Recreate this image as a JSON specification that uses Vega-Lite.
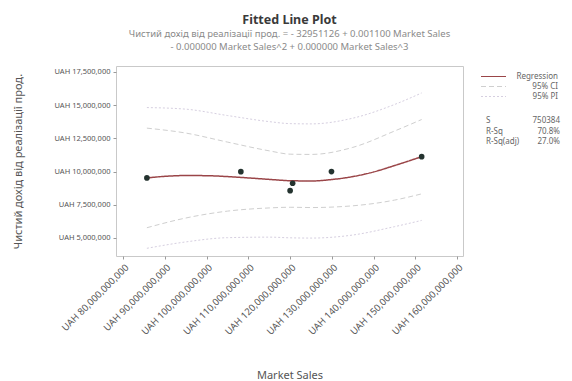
{
  "$schema": "https://vega.github.io/schema/vega-lite/v6.json",
  "autosize": {"type": "none"},
  "width": 347,
  "height": 190,
  "padding": {"left": 116, "top": 66, "right": 109, "bottom": 125},
  "background": "white",
  "title": {
    "text": "Fitted Line Plot",
    "subtitle": [
      "Чистий дохід від реалізації прод. = - 32951126 + 0.001100 Market Sales",
      "- 0.000000 Market Sales^2 + 0.000000 Market Sales^3"
    ],
    "anchor": "middle",
    "font": "Noto Sans",
    "fontSize": 12.5,
    "fontWeight": "bold",
    "color": "#3a3a3a",
    "subtitleFont": "Noto Sans",
    "subtitleFontSize": 9.5,
    "subtitleColor": "#8a8a8a",
    "subtitlePadding": 3,
    "subtitleLineHeight": 12.5,
    "offset": 15
  },
  "datasets": {
    "observed": [
      {"sales": 85700000000, "revenue": 9520000},
      {"sales": 108200000000, "revenue": 9990000},
      {"sales": 120000000000, "revenue": 8560000},
      {"sales": 120600000000, "revenue": 9120000},
      {"sales": 129900000000, "revenue": 10000000},
      {"sales": 151500000000, "revenue": 11120000}
    ],
    "fit": [
      {"sales": 85700000000, "revenue": 9520000, "series": "Regression", "band": "fit"},
      {"sales": 90000000000, "revenue": 9640000, "series": "Regression", "band": "fit"},
      {"sales": 95000000000, "revenue": 9700000, "series": "Regression", "band": "fit"},
      {"sales": 100000000000, "revenue": 9690000, "series": "Regression", "band": "fit"},
      {"sales": 105000000000, "revenue": 9620000, "series": "Regression", "band": "fit"},
      {"sales": 110000000000, "revenue": 9520000, "series": "Regression", "band": "fit"},
      {"sales": 115000000000, "revenue": 9410000, "series": "Regression", "band": "fit"},
      {"sales": 120000000000, "revenue": 9310000, "series": "Regression", "band": "fit"},
      {"sales": 125000000000, "revenue": 9290000, "series": "Regression", "band": "fit"},
      {"sales": 130000000000, "revenue": 9400000, "series": "Regression", "band": "fit"},
      {"sales": 135000000000, "revenue": 9620000, "series": "Regression", "band": "fit"},
      {"sales": 140000000000, "revenue": 9970000, "series": "Regression", "band": "fit"},
      {"sales": 145000000000, "revenue": 10450000, "series": "Regression", "band": "fit"},
      {"sales": 151500000000, "revenue": 11120000, "series": "Regression", "band": "fit"}
    ],
    "bands": [
      {"sales": 85700000000, "revenue": 13270000, "series": "95% CI", "band": "ci_upper"},
      {"sales": 95000000000, "revenue": 12900000, "series": "95% CI", "band": "ci_upper"},
      {"sales": 105000000000, "revenue": 12220000, "series": "95% CI", "band": "ci_upper"},
      {"sales": 115000000000, "revenue": 11560000, "series": "95% CI", "band": "ci_upper"},
      {"sales": 120000000000, "revenue": 11310000, "series": "95% CI", "band": "ci_upper"},
      {"sales": 125000000000, "revenue": 11290000, "series": "95% CI", "band": "ci_upper"},
      {"sales": 135000000000, "revenue": 11820000, "series": "95% CI", "band": "ci_upper"},
      {"sales": 145000000000, "revenue": 13050000, "series": "95% CI", "band": "ci_upper"},
      {"sales": 151500000000, "revenue": 13920000, "series": "95% CI", "band": "ci_upper"},
      {"sales": 85700000000, "revenue": 5770000, "series": "95% CI", "band": "ci_lower"},
      {"sales": 95000000000, "revenue": 6500000, "series": "95% CI", "band": "ci_lower"},
      {"sales": 105000000000, "revenue": 7020000, "series": "95% CI", "band": "ci_lower"},
      {"sales": 115000000000, "revenue": 7260000, "series": "95% CI", "band": "ci_lower"},
      {"sales": 120000000000, "revenue": 7310000, "series": "95% CI", "band": "ci_lower"},
      {"sales": 125000000000, "revenue": 7290000, "series": "95% CI", "band": "ci_lower"},
      {"sales": 135000000000, "revenue": 7420000, "series": "95% CI", "band": "ci_lower"},
      {"sales": 145000000000, "revenue": 7850000, "series": "95% CI", "band": "ci_lower"},
      {"sales": 151500000000, "revenue": 8320000, "series": "95% CI", "band": "ci_lower"},
      {"sales": 85700000000, "revenue": 14820000, "series": "95% PI", "band": "pi_upper"},
      {"sales": 95000000000, "revenue": 14700000, "series": "95% PI", "band": "pi_upper"},
      {"sales": 105000000000, "revenue": 14220000, "series": "95% PI", "band": "pi_upper"},
      {"sales": 115000000000, "revenue": 13760000, "series": "95% PI", "band": "pi_upper"},
      {"sales": 120000000000, "revenue": 13610000, "series": "95% PI", "band": "pi_upper"},
      {"sales": 125000000000, "revenue": 13590000, "series": "95% PI", "band": "pi_upper"},
      {"sales": 135000000000, "revenue": 14020000, "series": "95% PI", "band": "pi_upper"},
      {"sales": 145000000000, "revenue": 15050000, "series": "95% PI", "band": "pi_upper"},
      {"sales": 151500000000, "revenue": 15920000, "series": "95% PI", "band": "pi_upper"},
      {"sales": 85700000000, "revenue": 4220000, "series": "95% PI", "band": "pi_lower"},
      {"sales": 95000000000, "revenue": 4700000, "series": "95% PI", "band": "pi_lower"},
      {"sales": 105000000000, "revenue": 5020000, "series": "95% PI", "band": "pi_lower"},
      {"sales": 115000000000, "revenue": 5060000, "series": "95% PI", "band": "pi_lower"},
      {"sales": 120000000000, "revenue": 5010000, "series": "95% PI", "band": "pi_lower"},
      {"sales": 125000000000, "revenue": 4990000, "series": "95% PI", "band": "pi_lower"},
      {"sales": 135000000000, "revenue": 5220000, "series": "95% PI", "band": "pi_lower"},
      {"sales": 145000000000, "revenue": 5850000, "series": "95% PI", "band": "pi_lower"},
      {"sales": 151500000000, "revenue": 6320000, "series": "95% PI", "band": "pi_lower"}
    ],
    "summary": [
      {"stat": "S", "value": "750384"},
      {"stat": "R-Sq", "value": "70.8%"},
      {"stat": "R-Sq(adj)", "value": "27.0%"}
    ]
  },
  "encoding": {
    "x": {
      "field": "sales",
      "type": "quantitative",
      "title": "Market Sales",
      "scale": {"domain": [78300000000, 161400000000], "nice": false, "zero": false},
      "axis": {
        "values": [80000000000, 90000000000, 100000000000, 110000000000, 120000000000, 130000000000, 140000000000, 150000000000, 160000000000],
        "labelExpr": "'UAH ' + format(datum.value, ',')",
        "labelAngle": -45,
        "labelFontSize": 9.5,
        "labelOverlap": false,
        "labelPadding": 3,
        "titleFontSize": 11,
        "titlePadding": 33
      }
    },
    "y": {
      "field": "revenue",
      "type": "quantitative",
      "title": "Чистий дохід від реалізації прод.",
      "scale": {"domain": [3640000, 17950000], "nice": false, "zero": false},
      "axis": {
        "values": [5000000, 7500000, 10000000, 12500000, 15000000, 17500000],
        "labelExpr": "'UAH ' + format(datum.value, ',')",
        "labelFontSize": 7.5,
        "labelPadding": 3,
        "titleFontSize": 11,
        "titlePadding": 30
      }
    }
  },
  "layer": [
    {
      "data": {"name": "bands"},
      "mark": {"type": "line", "strokeWidth": 1, "interpolate": "monotone"},
      "encoding": {
        "detail": {"field": "band"},
        "color": {
          "field": "series",
          "type": "nominal",
          "scale": {"domain": ["Regression", "95% CI", "95% PI"], "range": ["#9a4548", "#cfcfcf", "#d6cfe0"]},
          "legend": {
            "title": null,
            "orient": "none",
            "legendX": 372,
            "legendY": 5,
            "symbolType": "M-2.5,0H2.5",
            "symbolSize": 100,
            "symbolStrokeWidth": 1,
            "labelAlign": "right",
            "labelOffset": 59,
            "labelFontSize": 8,
            "labelColor": "#666",
            "rowPadding": 0
          }
        },
        "strokeDash": {
          "field": "series",
          "type": "nominal",
          "scale": {"domain": ["Regression", "95% CI", "95% PI"], "range": [[1, 0], [5, 3], [2, 2]]}
        }
      }
    },
    {
      "data": {"name": "fit"},
      "mark": {"type": "line", "strokeWidth": 1.5, "interpolate": "monotone"},
      "encoding": {
        "color": {"field": "series", "type": "nominal"},
        "strokeDash": {"field": "series", "type": "nominal"}
      }
    },
    {
      "data": {"name": "observed"},
      "mark": {"type": "point", "filled": true, "size": 32, "color": "#24332f", "opacity": 1}
    },
    {
      "data": {"name": "summary"},
      "mark": {"type": "point", "opacity": 0},
      "encoding": {
        "x": null,
        "y": null,
        "shape": {
          "field": "stat",
          "type": "nominal",
          "sort": ["S", "R-Sq", "R-Sq(adj)"],
          "legend": {
            "title": null,
            "orient": "none",
            "legendX": 362,
            "legendY": 51,
            "symbolSize": 0,
            "symbolOpacity": 0,
            "labelOffset": 0,
            "labelFontSize": 8,
            "labelColor": "#666",
            "rowPadding": 2.5
          }
        },
        "fill": {
          "field": "value",
          "type": "nominal",
          "sort": ["750384", "70.8%", "27.0%"],
          "scale": {"range": ["#ffffff"]},
          "legend": {
            "title": null,
            "orient": "none",
            "legendX": 404,
            "legendY": 51,
            "symbolSize": 0,
            "symbolOpacity": 0,
            "labelAlign": "right",
            "labelOffset": 32,
            "labelFontSize": 8,
            "labelColor": "#666",
            "rowPadding": 2.5
          }
        }
      }
    }
  ],
  "config": {
    "font": "Noto Sans",
    "view": {"stroke": "#c9c9c9", "strokeWidth": 1},
    "axis": {
      "grid": false,
      "domain": false,
      "ticks": true,
      "tickSize": 3,
      "tickColor": "#9a9a9a",
      "labelColor": "#555",
      "labelFont": "Noto Sans",
      "titleFont": "Noto Sans",
      "titleFontWeight": "normal",
      "titleColor": "#555"
    },
    "legend": {"labelFont": "Noto Sans"}
  }
}
